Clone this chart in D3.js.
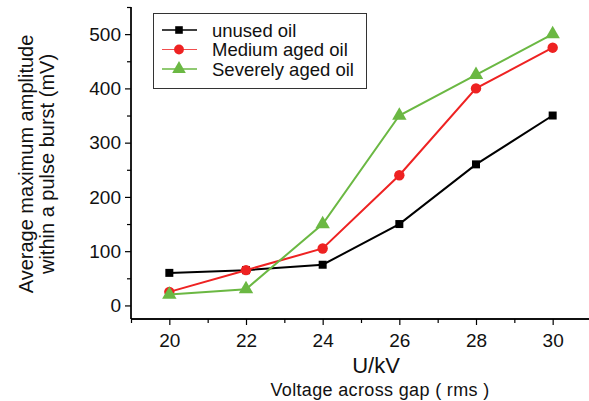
<!DOCTYPE html>
<html><head><meta charset="utf-8">
<script src="https://cdn.jsdelivr.net/npm/d3@7"></script>
<style>body{margin:0;background:#fff}svg{display:block}text{font-family:Arial,"Liberation Sans",sans-serif}</style>
</head><body>
<svg id="c" width="589" height="401"></svg>
<script>
const voltages = [20, 22, 24, 26, 28, 30];
const unusedOil = [60, 65, 75, 150, 260, 350];
const mediumAged = [25, 65, 105, 240, 400, 475];
const severelyAged = [20, 30, 150, 350, 425, 500];
const seriesNames = ["unused oil", "Medium aged oil", "Severely aged oil"];
const xTicks = [20, 22, 24, 26, 28, 30];
const yTicks = [0, 100, 200, 300, 400, 500];

const svg = d3.select("#c");
const x = d3.scaleLinear().domain([19, 31]).range([131, 591]);
const y = d3.scaleLinear().domain([-25, 550]).range([319, 7]);

const series = [
  {name: seriesNames[0], vals: unusedOil, color: "#000000", sym: d3.symbolSquare, size: 64},
  {name: seriesNames[1], vals: mediumAged, color: "#ee2222", sym: d3.symbolCircle, size: 85},
  {name: seriesNames[2], vals: severelyAged, color: "#6bb843", sym: d3.symbolTriangle, size: 90}
];

// axes
const gx = svg.append("g").attr("transform", "translate(0,319)");
gx.call(d3.axisBottom(x).tickValues(xTicks).tickSize(6).tickPadding(9).tickFormat(d3.format("d")));
gx.append("g").call(d3.axisBottom(x).tickValues([19,21,23,25,27,29]).tickSize(4).tickFormat(""));
const gy = svg.append("g").attr("transform", "translate(131,0)");
gy.call(d3.axisLeft(y).tickValues(yTicks).tickSize(6).tickPadding(4).tickFormat(d3.format("d")));
gy.append("g").call(d3.axisLeft(y).tickValues([50,150,250,350,450,550]).tickSize(4).tickFormat(""));
[gx, gy].forEach(g => {
  g.selectAll(".domain").attr("stroke", "#000").attr("stroke-width", 1.3);
  g.selectAll(".tick line").attr("stroke", "#000").attr("stroke-width", 1.2);
  g.selectAll(".tick text").attr("font-size", 19).attr("fill", "#111");
});
gx.selectAll(".domain").attr("d", "M131,0H591");
gy.selectAll(".domain").attr("d", "M0,319V7");

// lines
const line = d3.line().x((d, i) => x(voltages[i])).y(d => y(d));
series.forEach(s => {
  svg.append("path").datum(s.vals).attr("d", line).attr("fill", "none")
    .attr("stroke", s.color).attr("stroke-width", 2);
  svg.append("g").selectAll("path").data(s.vals).join("path")
    .attr("transform", (d, i) => `translate(${x(voltages[i])},${y(d)})`)
    .attr("d", d3.symbol().type(s.sym).size(s.size)).attr("fill", s.color);
});

// legend
const lg = svg.append("g");
lg.append("rect").attr("x", 153.5).attr("y", 13.5).attr("width", 213).attr("height", 75)
  .attr("fill", "#fff").attr("stroke", "#333").attr("stroke-width", 1);
series.forEach((s, i) => {
  const yy = 30 + i * 19.5;
  lg.append("line").attr("x1", 162).attr("x2", 197).attr("y1", yy).attr("y2", yy)
    .attr("stroke", s.color).attr("stroke-width", i === 1 ? 1 : 1.3).attr("opacity", i === 1 ? 0.8 : 1);
  lg.append("path").attr("transform", `translate(179,${yy})`)
    .attr("d", d3.symbol().type(s.sym).size(s.size * 0.9)).attr("fill", s.color);
  lg.append("text").attr("x", 212).attr("y", yy + 6.5).attr("font-size", 18.5).attr("fill", "#111").text(s.name);
});

// axis titles
svg.append("text").attr("x", 376).attr("y", 373).attr("text-anchor", "middle")
  .attr("font-size", 22).attr("fill", "#111").text("U/kV");
svg.append("text").attr("x", 380).attr("y", 396).attr("text-anchor", "middle")
  .attr("font-size", 18).attr("letter-spacing", 0.35).attr("fill", "#111").text("Voltage across gap ( rms )");
const yl = svg.append("text").attr("transform", "translate(33,164) rotate(-90)")
  .attr("text-anchor", "middle").attr("font-size", 20).attr("fill", "#111");
yl.append("tspan").attr("x", 0).attr("dy", 0).text("Average maximum amplitude");
yl.append("tspan").attr("x", 0).attr("dy", 21).text("within a pulse burst (mV)");
</script>
</body></html>
